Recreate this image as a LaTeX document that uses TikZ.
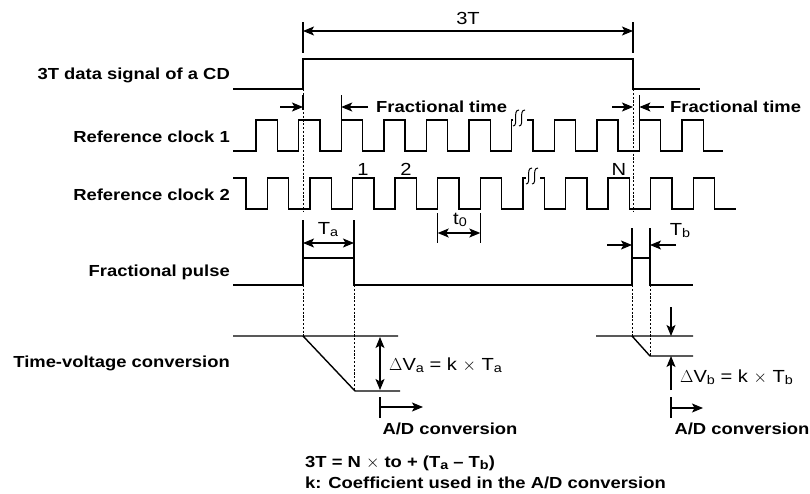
\documentclass[tikz,border=0pt]{standalone}
\usepackage{fontspec}
\setmainfont{Liberation Sans}[FakeStretch=1.15]
\usetikzlibrary{arrows.meta,calc}
\newcommand{\sbs}[1]{\raisebox{-2pt}{\fontsize{12.5}{12.5}\selectfont #1}}
\newcommand{\tdfont}{\fontsize{16}{19}\selectfont}
\newcommand{\rgfont}{\fontsize{17.5}{20}\selectfont}
\tikzset{
  sig/.style={line width=1.4pt},
  dimline/.style={line width=1.1pt},
  dimarr/.style={dimline, {Stealth[length=11pt,width=9pt,inset=2.5pt]}-{Stealth[length=11pt,width=9pt,inset=2.5pt]}},
  onearr/.style={dimline, -{Stealth[length=11pt,width=9pt,inset=2.5pt]}},
  guide/.style={line width=0.9pt, dash pattern=on 2.2pt off 1.6pt},
  lbl/.style={font=\tdfont\bfseries, anchor=east, inner sep=0pt},
  btxt/.style={font=\tdfont\bfseries, inner sep=0pt},
  txt/.style={font=\rgfont, inner sep=0pt},
  brk/.pic={
    \fill[white] (-7,-9) rectangle (7,9);
    \draw[line width=1pt] (-7,8) .. controls (-1,8) and (-8,-8) .. (-1,-8);
    \draw[line width=1pt] (-1,8) .. controls (5,8) and (-2,-8) .. (5,-8);
  }
}
\begin{document}
\begin{tikzpicture}[x=1pt,y=-1pt]
  \useasboundingbox (0,0) rectangle (810,493);
  % signal names
  \node[lbl] (nData) at (230,75) {3T data signal of a CD};
  \node[lbl] (nClk1) at (230,137) {Reference clock 1};
  \node[lbl] (nClk2) at (230,195) {Reference clock 2};
  \node[lbl] (nPulse) at (230,272) {Fractional pulse};
  \node[lbl] (nTV) at (230,363) {Time-voltage conversion};

  % 3T data signal
  \draw[sig] (233,89) -- (303,89) -- (303,59) -- (633,59) -- (633,89) -- (700,89);
  \draw[dimline] (303,22) -- (303,53) (633,22) -- (633,53);
  \draw[dimarr] (303,31) -- (633,31);
  \node[txt] (l3T) at (468,18) {3T};

  % reference clocks
  \draw[sig] (233,151) foreach \k in {0,...,10} {
      -- ({256+42.6*\k},151) -- ({256+42.6*\k},120)
      -- ({277.3+42.6*\k},120) -- ({277.3+42.6*\k},151) } -- (723,151);
  \draw[sig] (233,178) foreach \k in {0,...,10} {
      -- ({246+42.6*\k},178) -- ({246+42.6*\k},209)
      -- ({267.3+42.6*\k},209) -- ({267.3+42.6*\k},178) }
      -- (714.6,178) -- (714.6,209) -- (736,209);
  \pic at (520,118) {brk};
  \pic at (533,176) {brk};
  \node[txt] (c1) at (363,169) {1};
  \node[txt] (c2) at (406,169) {2};
  \node[txt] (cN) at (619,169) {N};

  % fractional times
  \draw[dimline] (303,95) -- (303,110) (341.2,95) -- (341.2,120);
  \draw[onearr] (280,107) -- (303,107);
  \draw[onearr] (368,107) -- (341.2,107);
  \node[btxt, anchor=west] (fl) at (376,107) {Fractional time};
  \draw[dimline] (639.4,95) -- (639.4,120);
  \draw[onearr] (612,107) -- (633,107);
  \draw[onearr] (664,107) -- (639.4,107);
  \node[btxt, anchor=west] (fr) at (670,107) {Fractional time};
  \draw[guide] (303,89) -- (303,212) (633,89) -- (633,212);

  % t0
  \draw[dimline] (437.7,213) -- (437.7,243) (480.3,213) -- (480.3,243);
  \draw[dimarr] (437.7,233) -- (480.3,233);
  \node[txt] (lt0) at (460,220) {t\sbs{0}};

  % fractional pulse
  \draw[sig] (233,285) -- (303,285) -- (303,258) -- (354,258) -- (354,285)
      -- (632,285) -- (632,258) -- (650,258) -- (650,285) -- (693,285);
  \draw[dimline] (303,220) -- (303,258) (354,220) -- (354,258);
  \draw[dimarr] (303,243) -- (354,243);
  \node[txt] (lTa) at (328,230) {T\sbs{a}};
  \draw[dimline] (632,228) -- (632,258) (650,228) -- (650,258);
  \draw[onearr] (607,245) -- (632,245);
  \draw[onearr] (676,245) -- (650,245);
  \node[txt] (lTb) at (680,231) {T\sbs{b}};
  \draw[guide] (303,285) -- (303,336) (354,285) -- (354,391)
      (632,285) -- (632,336) (650,285) -- (650,356);

  % time-voltage conversion
  \draw[sig] (233,336) -- (398,336) (303,336) -- (355,391) -- (400,391);
  \draw[dimarr] (380,337) -- (380,390);
  \node[txt, anchor=west] (dVa) at (389,365) {$\Delta$V\sbs{a} = k $\times$ T\sbs{a}};
  \draw[dimline] (380,397) -- (380,418);
  \draw[onearr] (380,407) -- (423,407);
  \node[btxt] (adl) at (450,429) {A/D conversion};

  \draw[sig] (596,336) -- (693,336) (632,336) -- (650,356) -- (693,356);
  \draw[onearr] (671,307) -- (671,336);
  \draw[onearr] (671,390) -- (671,356);
  \node[txt, anchor=west] (dVb) at (680,377) {$\Delta$V\sbs{b} = k $\times$ T\sbs{b}};
  \draw[dimline] (671,397) -- (671,418);
  \draw[onearr] (671,408) -- (703,408);
  \node[btxt] (adr) at (742,429) {A/D conversion};

  % formula
  \node[btxt, anchor=west] (f1) at (305,463) {3T = N $\times$ to + (T\sbs{a} – T\sbs{b})};
  \node[btxt, anchor=west] (f2) at (305,483) {k: Coefficient used in the A/D conversion};
\end{tikzpicture}
\end{document}
